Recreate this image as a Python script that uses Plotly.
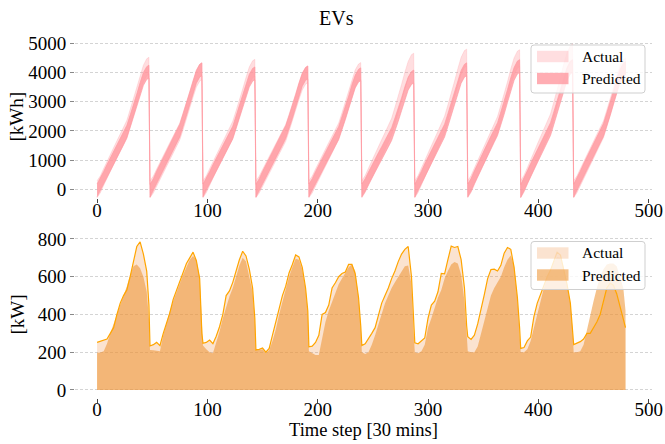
import plotly.graph_objects as go

# ---------------------------------------------------------------------------
# Data: 10 days of half-hourly EV data, sampled at fixed offsets within a day
# ---------------------------------------------------------------------------
steps_per_day = 48
day_offsets = [0, 3, 6, 9, 12, 15, 18, 21, 24, 27, 30, 33, 36, 39, 42, 45, 47]
n_days = 10

# Stored energy [kWh] (centre of the scenario band), one row per day
soc_actual = [
    0, 170, 420, 670, 900, 1130, 1370, 1600, 1840, 2070, 2440, 2800, 3190, 3600, 3960, 4180, 4230,
    0, 160, 400, 640, 860, 1080, 1310, 1530, 1750, 1980, 2330, 2670, 3050, 3440, 3790, 3990, 4040,
    0, 170, 410, 660, 890, 1110, 1340, 1580, 1800, 2040, 2400, 2750, 3140, 3540, 3900, 4110, 4160,
    0, 160, 390, 620, 840, 1050, 1270, 1490, 1710, 1930, 2270, 2600, 2980, 3360, 3690, 3890, 3940,
    0, 160, 400, 640, 860, 1080, 1310, 1530, 1760, 1980, 2330, 2680, 3060, 3450, 3800, 4000, 4050,
    0, 180, 430, 690, 930, 1160, 1410, 1650, 1890, 2140, 2520, 2890, 3300, 3720, 4090, 4320, 4370,
    0, 180, 440, 710, 960, 1200, 1450, 1700, 1950, 2210, 2600, 2980, 3410, 3840, 4230, 4460, 4510,
    0, 180, 440, 700, 960, 1190, 1450, 1700, 1940, 2200, 2590, 2970, 3390, 3830, 4210, 4440, 4490,
    0, 190, 450, 740, 1000, 1250, 1510, 1770, 2030, 2290, 2700, 3100, 3540, 4000, 4390, 4630, 4690,
    0, 170, 410, 660, 890, 1120, 1350, 1590, 1820, 2050, 2420, 2780, 3170, 3580, 3940, 4150, 4200,
]
soc_predicted = [
    -40, 150, 390, 630, 860, 1070, 1300, 1520, 1740, 1970, 2320, 2660, 3040, 3430, 3780, 3980, 4030,
    -50, 140, 400, 650, 870, 1090, 1320, 1550, 1780, 2010, 2370, 2720, 3100, 3500, 3850, 4060, 4110,
    -40, 150, 380, 620, 850, 1060, 1280, 1500, 1720, 1940, 2290, 2620, 3000, 3380, 3720, 3920, 3970,
    -50, 140, 390, 630, 850, 1060, 1290, 1510, 1730, 1960, 2300, 2640, 3020, 3410, 3750, 3950, 4000,
    -40, 140, 380, 620, 840, 1050, 1270, 1490, 1710, 1930, 2270, 2600, 2970, 3360, 3690, 3890, 3940,
    -40, 140, 370, 610, 820, 1030, 1240, 1460, 1670, 1890, 2220, 2550, 2910, 3290, 3620, 3810, 3860,
    -50, 150, 400, 650, 870, 1090, 1320, 1550, 1780, 2010, 2370, 2720, 3100, 3500, 3850, 4060, 4110,
    -40, 150, 410, 660, 900, 1120, 1360, 1600, 1830, 2060, 2430, 2790, 3190, 3600, 3950, 4170, 4220,
    -60, 160, 410, 660, 900, 1120, 1360, 1590, 1830, 2060, 2430, 2790, 3190, 3590, 3950, 4170, 4220,
    -50, 150, 400, 650, 880, 1100, 1340, 1570, 1800, 2030, 2390, 2740, 3130, 3540, 3890, 4100, 4150,
]
# Half-width of the scenario spread around each centre line [kWh]
soc_actual_spread = 290
soc_predicted_spread = 220

# Charging power [kW], one row per day
power_actual = [
    252, 258, 262, 270, 300, 330, 400, 460, 500, 530, 600, 690, 760, 785, 720, 630, 450,
    233, 240, 252, 235, 300, 350, 410, 480, 525, 570, 620, 670, 700, 730, 685, 590, 300,
    247, 252, 264, 245, 285, 335, 400, 500, 525, 570, 635, 690, 735, 710, 640, 540, 380,
    212, 215, 222, 200, 220, 290, 360, 440, 500, 550, 620, 665, 715, 705, 650, 540, 420,
    229, 232, 252, 290, 400, 410, 450, 540, 568, 600, 617, 625, 665, 665, 615, 490, 340,
    235, 245, 270, 300, 330, 400, 460, 500, 540, 590, 630, 680, 720, 745, 760, 600, 300,
    250, 245, 262, 275, 380, 450, 470, 520, 617, 615, 690, 762, 755, 760, 690, 540, 340,
    282, 268, 290, 350, 420, 505, 590, 638, 640, 630, 660, 725, 755, 745, 650, 490, 330,
    220, 225, 260, 280, 390, 460, 510, 560, 600, 635, 680, 730, 715, 640, 560, 460, 330,
    240, 248, 256, 270, 300, 300, 330, 360, 400, 470, 540, 565, 555, 510, 440, 370, 330,
]
power_predicted = [
    197, 198, 205, 245, 300, 350, 395, 450, 500, 550, 610, 655, 665, 645, 600, 520, 380,
    212, 210, 208, 205, 290, 360, 420, 470, 520, 565, 610, 650, 690, 710, 690, 600, 300,
    235, 215, 200, 195, 250, 310, 380, 440, 495, 540, 600, 660, 700, 680, 600, 520, 380,
    210, 212, 215, 195, 210, 260, 320, 400, 470, 530, 600, 650, 695, 690, 640, 540, 420,
    205, 195, 185, 185, 280, 360, 420, 470, 520, 560, 590, 620, 650, 665, 630, 490, 340,
    200, 190, 200, 240, 290, 350, 410, 460, 500, 540, 570, 600, 630, 655, 660, 560, 300,
    200, 195, 205, 240, 330, 380, 440, 490, 530, 590, 630, 665, 678, 670, 610, 470, 300,
    205, 200, 200, 230, 300, 370, 440, 500, 540, 570, 600, 650, 690, 712, 660, 490, 330,
    200, 200, 215, 260, 330, 410, 480, 540, 600, 640, 680, 705, 700, 650, 560, 460, 320,
    200, 200, 205, 240, 320, 400, 470, 540, 600, 640, 665, 670, 670, 655, 600, 540, 420,
]

x_ticks = [0, 100, 200, 300, 400, 500]
soc_ticks = [0, 1000, 2000, 3000, 4000, 5000]
power_ticks = [0, 200, 400, 600, 800]
series_names = ["Actual", "Predicted"]

# ---------------------------------------------------------------------------
# Styling
# ---------------------------------------------------------------------------
FONT = "Liberation Serif"
W, H = 665, 444
pink_actual = "rgba(255,135,145,0.28)"
pink_pred = "rgba(255,150,158,0.78)"
orange_actual = "rgba(240,140,60,0.24)"
orange_pred = "rgba(238,150,55,0.58)"
orange_line = "#FFA500"

steps = [steps_per_day * d + o for d in range(n_days) for o in day_offsets]


def band(center, spread):
    upper = [c + spread for c in center]
    lower = [c - spread for c in center]
    return steps + steps[::-1], upper + lower[::-1]


fig = go.Figure()

# Top panel: energy bands
for center, spread, color in [
    (soc_actual, soc_actual_spread, pink_actual),
    (soc_predicted, soc_predicted_spread, pink_pred),
]:
    bx, by = band(center, spread)
    fig.add_trace(go.Scatter(
        x=bx, y=by, mode="lines", fill="toself", fillcolor=color,
        line=dict(width=0.8, color=color), hoverinfo="skip", showlegend=False,
        xaxis="x", yaxis="y",
    ))

# Bottom panel: power areas and actual line
fig.add_trace(go.Scatter(
    x=steps, y=power_actual, mode="lines", fill="tozeroy", fillcolor=orange_actual,
    line=dict(width=0), showlegend=False, xaxis="x2", yaxis="y2",
))
fig.add_trace(go.Scatter(
    x=steps, y=power_predicted, mode="lines", fill="tozeroy", fillcolor=orange_pred,
    line=dict(width=0), showlegend=False, xaxis="x2", yaxis="y2",
))
fig.add_trace(go.Scatter(
    x=steps, y=power_actual, mode="lines", line=dict(color=orange_line, width=1.2),
    showlegend=False, xaxis="x2", yaxis="y2",
))

x_dom = [75 / W, 652 / W]
top_dom = [1 - 198 / H, 1 - 36 / H]
bot_dom = [1 - 397.5 / H, 1 - 233.3 / H]

tickfont = dict(family=FONT, size=19, color="black")
common_x = dict(
    domain=x_dom, range=[-20, 503], tickvals=x_ticks, ticks="outside", ticklen=4,
    tickcolor="#444", tickwidth=1, showgrid=False, zeroline=False, showline=False,
    tickfont=tickfont, ticklabelstandoff=-9, automargin=False,
)
common_y = dict(
    ticks="outside", ticklen=4, tickcolor="#888", tickwidth=1, showgrid=True,
    gridcolor="#d4d4d4", griddash="3px,2px", gridwidth=0.8, zeroline=False,
    showline=False, tickfont=tickfont, automargin=False,
)

fig.update_layout(
    template="none",
    width=W, height=H, margin=dict(l=0, r=0, t=0, b=0, autoexpand=False),
    paper_bgcolor="white", plot_bgcolor="white", showlegend=False,
    font=dict(family=FONT, color="black"),
    xaxis=dict(anchor="y", **common_x),
    yaxis=dict(domain=top_dom, range=[-300, 5250], tickvals=soc_ticks, anchor="x", **common_y),
    xaxis2=dict(anchor="y2", **common_x),
    yaxis2=dict(domain=bot_dom, range=[-40, 830], tickvals=power_ticks, anchor="x2", **common_y),
)

# Titles
annotations = [
    dict(text="EVs", x=336 / W, y=1 - 18 / H, size=20),
    dict(text="Time step [30 mins]", x=363.5 / W, y=1 - 430 / H, size=18.5),
]
for a in annotations:
    fig.add_annotation(text=a["text"], x=a["x"], y=a["y"], xref="paper", yref="paper",
                       showarrow=False, xanchor="center", yanchor="middle",
                       font=dict(family=FONT, size=a["size"], color="black"))
for text, yc in [("[kWh]", 117), ("[kW]", 315)]:
    fig.add_annotation(text=text, x=16.5 / W, y=1 - yc / H, xref="paper", yref="paper",
                       showarrow=False, textangle=-90, xanchor="center", yanchor="middle",
                       font=dict(family=FONT, size=19, color="black"))


# Legends drawn as framed boxes in the upper right of each panel
def rounded_rect(x0, y0, x1, y1, r=3):
    px = lambda v: v / W
    py = lambda v: 1 - v / H
    return (f"M {px(x0 + r)} {py(y0)} L {px(x1 - r)} {py(y0)} "
            f"Q {px(x1)} {py(y0)} {px(x1)} {py(y0 + r)} L {px(x1)} {py(y1 - r)} "
            f"Q {px(x1)} {py(y1)} {px(x1 - r)} {py(y1)} L {px(x0 + r)} {py(y1)} "
            f"Q {px(x0)} {py(y1)} {px(x0)} {py(y1 - r)} L {px(x0)} {py(y0 + r)} "
            f"Q {px(x0)} {py(y0)} {px(x0 + r)} {py(y0)} Z")


def add_legend(top, colors):
    fig.add_shape(type="path", path=rounded_rect(531, top, 645, top + 48),
                  xref="paper", yref="paper", layer="above",
                  fillcolor="rgba(255,255,255,0.8)", line=dict(color="#cfcfcf", width=1))
    for i, (name, color) in enumerate(zip(series_names, colors)):
        yc = top + 11.5 + i * 22
        fig.add_shape(type="rect", x0=537 / W, x1=568.5 / W,
                      y0=1 - (yc - 5.7) / H, y1=1 - (yc + 5.7) / H,
                      xref="paper", yref="paper", layer="above",
                      fillcolor=color, line=dict(width=0))
        fig.add_annotation(text=name, x=580 / W, y=1 - yc / H, xref="paper", yref="paper",
                           showarrow=False, xanchor="left", yanchor="middle",
                           font=dict(family=FONT, size=15.5, color="black"))


add_legend(45, [pink_actual, pink_pred])
add_legend(241.5, [orange_actual, orange_pred])

fig.write_html("out.html")
